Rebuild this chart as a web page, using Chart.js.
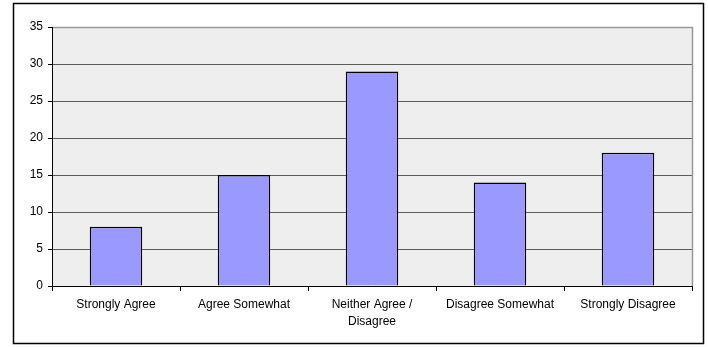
<!DOCTYPE html>
<html>
<head>
<meta charset="utf-8">
<script src="https://cdn.jsdelivr.net/npm/chart.js@4.4.1/dist/chart.umd.min.js"></script>
<style>
  html, body { margin: 0; padding: 0; background: #ffffff; }
  #wrap { width: 708px; height: 347px; position: relative; }
</style>
</head>
<body>
<div id="wrap"><canvas id="c" width="708" height="347"></canvas></div>
<script>
// Survey responses by agreement level
const categories = ['Strongly Agree', 'Agree Somewhat', ['Neither Agree /', 'Disagree'], 'Disagree Somewhat', 'Strongly Disagree'];
const responses = [8, 15, 29, 14, 18];
const yTicks = [0, 5, 10, 15, 20, 25, 30, 35];

// Frame around the whole figure and grey plot background
const framePlugin = {
  id: 'frame',
  beforeDraw(chart) {
    const ctx = chart.ctx;
    const a = chart.chartArea;
    ctx.save();
    ctx.fillStyle = '#ffffff';
    ctx.fillRect(0, 0, chart.width, chart.height);
    ctx.strokeStyle = '#000000';
    ctx.lineWidth = 1.5;
    ctx.strokeRect(13.5, 3.5, 690, 340);
    ctx.fillStyle = '#eeeeee';
    ctx.fillRect(a.left, a.top, a.right - a.left, a.bottom - a.top);
    ctx.restore();
  },
  afterDatasetsDraw(chart) {
    const ctx = chart.ctx;
    const a = chart.chartArea;
    ctx.save();
    ctx.strokeStyle = '#999999';
    ctx.lineWidth = 1.5;
    ctx.beginPath();
    ctx.moveTo(a.left, a.top + 0.5);
    ctx.lineTo(a.right + 0.5, a.top + 0.5);
    ctx.lineTo(a.right + 0.5, a.bottom);
    ctx.stroke();
    ctx.strokeStyle = '#000000';
    ctx.lineWidth = 1;
    ctx.beginPath();
    ctx.moveTo(a.left + 0.5, a.top);
    ctx.lineTo(a.left + 0.5, a.bottom + 0.5);
    ctx.lineTo(a.right, a.bottom + 0.5);
    ctx.stroke();
    ctx.restore();
  }
};

new Chart(document.getElementById('c'), {
  type: 'bar',
  data: {
    labels: categories,
    datasets: [{
      data: responses,
      backgroundColor: '#9999ff',
      borderColor: '#000000',
      borderWidth: 1.5,
      categoryPercentage: 0.41,
      barPercentage: 1.0
    }]
  },
  options: {
    responsive: false,
    animation: false,
    devicePixelRatio: 1,
    layout: { padding: { left: 0, top: 27, right: 16, bottom: 0 } },
    plugins: { legend: { display: false }, tooltip: { enabled: false } },
    scales: {
      x: {
        afterFit(s) { s.height = 61; },
        grid: {
          offset: true,
          drawOnChartArea: false,
          drawTicks: true,
          tickLength: 5,
          color: '#000000',
          lineWidth: 1
        },
        border: { display: false },
        ticks: {
          color: '#000000',
          padding: 5,
          maxRotation: 0,
          autoSkip: false,
          font: { family: 'Liberation Sans, Arial, sans-serif', size: 12, lineHeight: 1.42 }
        }
      },
      y: {
        min: 0,
        max: 35,
        afterFit(s) { s.width = 52; },
        afterBuildTicks(s) { s.ticks = yTicks.map(v => ({ value: v })); },
        grid: {
          color: '#5a5a5a',
          lineWidth: 1,
          drawTicks: true,
          tickLength: 4,
          tickColor: '#000000'
        },
        border: { display: false },
        ticks: {
          color: '#000000',
          padding: 5,
          font: { family: 'Liberation Sans, Arial, sans-serif', size: 12 }
        }
      }
    }
  },
  plugins: [framePlugin]
});
</script>
</body>
</html>
